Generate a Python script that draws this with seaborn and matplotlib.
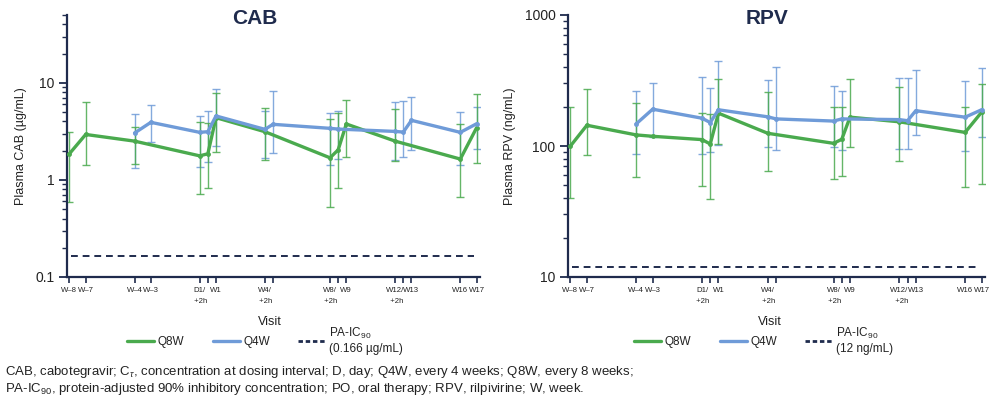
import numpy as np
import pandas as pd
import matplotlib
matplotlib.use("Agg")
import matplotlib.pyplot as plt
from matplotlib.lines import Line2D
from matplotlib import font_manager
from matplotlib.ticker import LogLocator, NullFormatter, FixedLocator, FixedFormatter
import seaborn as sns

# ---------------- data ----------------
visits = ["W–8", "W–7", "W–4", "W–3", "D1", "D1+2h", "W1", "W4", "W4+2h",
          "W8", "W8+2h", "W9", "W12", "W12+2h", "W13", "W16", "W17"]
visit_week = [-8, -7, -4, -3, 0, 0.5, 1, 4, 4.5, 8, 8.5, 9, 12, 12.5, 13, 16, 17]
tick_labels = ["W–8", "W–7", "W–4", "W–3", "D1/\n +2h", "", "W1", "W4/\n +2h", "",
               "W8/\n +2h", "", "W9", "W12/\n  +2h", "", "W13", "W16", "W17"]
nan = np.nan

cab_q8w = [1.86, 2.94, 2.51, nan, 1.77, 1.86, 4.38, 3.14, nan, 1.69, 2.04, 3.77, 2.51, nan, nan, 1.64, 3.45]
cab_q8w_lo = [0.59, 1.43, 1.46, nan, 0.71, 0.83, 1.92, 1.61, nan, 0.53, 0.83, 1.74, 1.58, nan, nan, 0.66, 1.50]
cab_q8w_hi = [3.09, 6.36, 3.48, nan, 3.95, 3.90, 7.88, 5.47, nan, 4.24, 4.90, 6.70, 5.40, nan, nan, 3.76, 7.60]

cab_q4w = [nan, nan, 3.04, 3.92, 3.09, 3.14, 4.56, 3.32, 3.74, 3.40, 3.34, nan, 3.16, 3.11, 4.11, 3.09, 3.79]
cab_q4w_lo = [nan, nan, 1.34, 2.43, 1.36, 1.53, 2.25, 1.69, 1.90, 1.44, 1.64, nan, 1.61, 1.74, 2.04, 1.44, 2.06]
cab_q4w_hi = [nan, nan, 4.74, 5.97, 4.52, 5.10, 8.73, 5.17, 8.30, 4.93, 5.13, nan, 6.40, 6.50, 7.10, 4.97, 5.60]

rpv_q8w = [100, 144, 121.5, 118.6, 111.9, 103.6, 178, 125, nan, 104.8, 112.5, 166, 153, nan, nan, 127, 181]
rpv_q8w_lo = [40.3, 84.8, 57.5, nan, 49.9, 39.6, 103, 65, nan, 55.5, 59, 98.8, 77, nan, nan, 48.7, 51.4]
rpv_q8w_hi = [200, 271, 212, nan, 178, 175, 323, 260, nan, 200, 197, 327, 282, nan, nan, 199, 296]

rpv_q4w = [nan, nan, 147.6, 191, 163, 151, 189, 167, 161, 155, 161, nan, 159, 156, 186, 166, 189]
rpv_q4w_lo = [nan, nan, 87.3, 118, 87, 90, 101, 98, 92.6, 99, 92.6, nan, 95.4, 94.3, 121, 91.5, 117]
rpv_q4w_hi = [nan, nan, 265, 301, 335, 279, 447, 318, 402, 289, 263, nan, 331, 331, 379, 312, 395]

cab_pa_ic90 = 0.166
rpv_pa_ic90 = 12

# ---------------- style ----------------
sns.set_style("ticks")
plt.rcParams["font.family"] = ["Liberation Sans", "DejaVu Sans"]
plt.rcParams["mathtext.fontset"] = "custom"
plt.rcParams["mathtext.rm"] = "Liberation Sans"
plt.rcParams["mathtext.it"] = "Liberation Sans:italic"

available = {f.name for f in font_manager.fontManager.ttflist}
NARROW = "Liberation Sans Narrow" if "Liberation Sans Narrow" in available else "Liberation Sans"
tick_fs = 6.8 if NARROW != "Liberation Sans" else 5.6

GREEN = "#4aaa4e"
BLUE = "#6f9bd8"
NAVY = "#1f2b4d"
TEXT = "#222222"
palette = {"Q8W": GREEN, "Q4W": BLUE}


def make_df(q8, q8lo, q8hi, q4, q4lo, q4hi):
    rows = []
    for reg, m, lo, hi in (("Q8W", q8, q8lo, q8hi), ("Q4W", q4, q4lo, q4hi)):
        for v, w, a, b, c in zip(visits, visit_week, m, lo, hi):
            rows.append(dict(visit=v, week=w, regimen=reg, value=a, lo=b, hi=c))
    return pd.DataFrame(rows)


fig = plt.figure(figsize=(9.89, 4.0), dpi=100)

panels = [
    dict(rect=[0.0677, 0.3075, 0.4175, 0.655], title="CAB", title_x=0.258,
         df=make_df(cab_q8w, cab_q8w_lo, cab_q8w_hi, cab_q4w, cab_q4w_lo, cab_q4w_hi),
         ylim=(0.1, 50), yticks=[0.1, 1, 10], yticklabels=["0.1", "1", "10"],
         ylabel="Plasma CAB (µg/mL)", thr=cab_pa_ic90,
         thr_label="PA-IC$_{90}$\n(0.166 µg/mL)", legend_x=0.268, visit_x=0.273),
    dict(rect=[0.5743, 0.3075, 0.4215, 0.655], title="RPV", title_x=0.776,
         df=make_df(rpv_q8w, rpv_q8w_lo, rpv_q8w_hi, rpv_q4w, rpv_q4w_lo, rpv_q4w_hi),
         ylim=(10, 1000), yticks=[10, 100, 1000], yticklabels=["10", "100", "1000"],
         ylabel="Plasma RPV (ng/mL)", thr=rpv_pa_ic90,
         thr_label="PA-IC$_{90}$\n(12 ng/mL)", legend_x=0.772, visit_x=0.778),
]

for p in panels:
    ax = fig.add_axes(p["rect"])
    df = p["df"]
    d = df.dropna(subset=["value"])
    for reg, g in d.groupby("regimen"):
        g = g.dropna(subset=["lo", "hi"])
        ax.errorbar(g["week"], g["value"],
                    yerr=[g["value"] - g["lo"], g["hi"] - g["value"]],
                    fmt="none", ecolor=palette[reg], elinewidth=1.0, capsize=3,
                    capthick=1.0, alpha=0.85, zorder=2)
    sns.lineplot(data=d, x="week", y="value", hue="regimen", palette=palette,
                 hue_order=["Q8W", "Q4W"], marker="o", markersize=3.5,
                 markeredgewidth=0, linewidth=2.4, errorbar=None, legend=False,
                 ax=ax, zorder=3)
    ax.axhline(p["thr"], color=NAVY, linestyle=(0, (3.5, 2.5)), linewidth=1.4,
               xmin=0.01, xmax=0.985, zorder=1)
    ax.set_yscale("log")
    ax.set_ylim(*p["ylim"])
    ax.set_xlim(-8.15, 17.2)
    ax.yaxis.set_major_locator(FixedLocator(p["yticks"]))
    ax.yaxis.set_major_formatter(FixedFormatter(p["yticklabels"]))
    ax.yaxis.set_minor_locator(LogLocator(base=10, subs=np.arange(2, 10)))
    ax.yaxis.set_minor_formatter(NullFormatter())
    ax.xaxis.set_major_locator(FixedLocator(visit_week))
    ax.xaxis.set_major_formatter(FixedFormatter(tick_labels))
    ax.tick_params(axis="x", which="major", length=4, width=1.2, color=NAVY,
                   labelsize=tick_fs, labelcolor=TEXT, pad=3)
    for lab in ax.get_xticklabels():
        lab.set_fontfamily(NARROW)
        lab.set_linespacing(1.8)
        lab.set_verticalalignment("top")
    ax.tick_params(axis="y", which="major", length=6, width=1.3, color=NAVY,
                   labelsize=10, labelcolor=TEXT, pad=3)
    ax.tick_params(axis="y", which="minor", length=3.5, width=1.0, color=NAVY)
    for s in ["top", "right"]:
        ax.spines[s].set_visible(False)
    for s in ["left", "bottom"]:
        ax.spines[s].set_color(NAVY)
        ax.spines[s].set_linewidth(1.6)
    ax.set_xlabel("")
    ax.set_ylabel(p["ylabel"], fontsize=9, color=TEXT, labelpad=6)
    fig.text(p["title_x"], 0.955, p["title"], ha="center", va="center",
             fontsize=15, fontweight="bold", color=NAVY)
    fig.text(p["visit_x"], 0.195, "Visit", ha="center", va="center",
             fontsize=9, color=TEXT)
    handles = [Line2D([], [], color=GREEN, lw=2.4),
               Line2D([], [], color=BLUE, lw=2.4),
               Line2D([], [], color=NAVY, lw=2.0, linestyle=(0, (1.6, 1.0)))]
    labels = ["Q8W", "Q4W", p["thr_label"]]
    ax.legend(handles, labels, loc="center", bbox_to_anchor=(p["legend_x"], 0.148),
              bbox_transform=fig.transFigure, ncol=3, frameon=False,
              fontsize=8.5, handlelength=2.3, handletextpad=0.3,
              columnspacing=2.4, labelcolor=TEXT)

fig.text(0.005, 0.070,
         "CAB, cabotegravir; C$_{\\tau}$, concentration at dosing interval; D, day; "
         "Q4W, every 4 weeks; Q8W, every 8 weeks;",
         ha="left", va="center", fontsize=9.5, color=TEXT)
fig.text(0.005, 0.027,
         "PA-IC$_{90}$, protein-adjusted 90% inhibitory concentration; PO, oral therapy; "
         "RPV, rilpivirine; W, week.",
         ha="left", va="center", fontsize=9.5, color=TEXT)

fig.savefig("out.png", dpi=100)
